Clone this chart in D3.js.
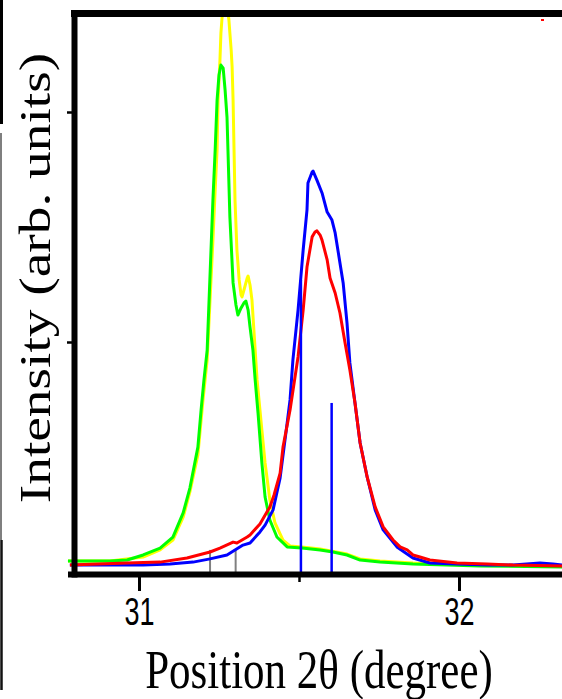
<!DOCTYPE html>
<html>
<head>
<meta charset="utf-8">
<script src="https://cdn.jsdelivr.net/npm/d3@7"></script>
<style>
  body { margin: 0; background: #fff; }
  svg { display: block; }
</style>
</head>
<body>
<script>
// 2theta (degree), intensity (arb. units)
var yellowPattern = [[30.778,48],[30.909,48],[31.013,65],[31.066,96],[31.106,139],[31.138,239],[31.159,348],[31.184,509],
  [31.200,748],[31.213,922],[31.222,1183],[31.231,1443],[31.238,1661],[31.244,1835],[31.247,2052],[31.253,2226],[31.256,2343],
  [31.259,2400],[31.263,2465],[31.275,2465],[31.281,2400],[31.284,2343],[31.288,2270],[31.291,2196],[31.294,2052],[31.297,1835],
  [31.300,1617],[31.306,1400],[31.313,1270],[31.319,1204],[31.322,1196],[31.328,1226],[31.338,1278],[31.341,1287],[31.347,1248],
  [31.353,1183],[31.359,1052],[31.363,965],[31.369,835],[31.378,704],[31.384,617],[31.394,474],[31.409,313],[31.425,213],
  [31.450,139],[31.472,113],[31.509,109],[31.566,100],[31.650,78],[31.691,57],[31.753,48],[31.856,39],[32.066,30],[32.322,26]];

var greenPattern = [[30.778,48],[30.847,48],[30.909,48],[30.963,52],[31.013,74],[31.066,104],[31.106,152],[31.138,257],
  [31.159,365],[31.184,543],[31.194,704],[31.203,835],[31.213,965],[31.219,1183],[31.225,1400],[31.231,1617],[31.238,1835],
  [31.244,2052],[31.250,2161],[31.256,2204],[31.263,2191],[31.269,2096],[31.275,1978],[31.278,1835],[31.284,1544],[31.294,1257],
  [31.303,1161],[31.309,1117],[31.319,1148],[31.328,1170],[31.334,1178],[31.341,1139],[31.347,1065],[31.356,965],[31.363,835],
  [31.372,691],[31.384,474],[31.394,326],[31.409,226],[31.431,152],[31.463,109],[31.509,104],[31.566,96],[31.606,87],
  [31.650,74],[31.691,52],[31.753,43],[31.856,35],[32.066,26],[32.322,22]];

var bluePattern = [[30.784,30],[30.909,30],[31.013,30],[31.097,35],[31.169,43],[31.222,57],[31.275,74],[31.325,117],
  [31.347,126],[31.378,174],[31.394,204],[31.419,270],[31.441,409],[31.463,648],[31.472,748],[31.481,922],[31.497,1139],
  [31.513,1400],[31.525,1574],[31.528,1691],[31.541,1739],[31.544,1743],[31.556,1704],[31.572,1648],[31.588,1565],[31.603,1530],
  [31.613,1474],[31.625,1370],[31.638,1257],[31.650,1083],[31.659,909],[31.675,735],[31.691,561],[31.713,413],[31.738,270],
  [31.763,183],[31.806,109],[31.856,61],[31.909,39],[31.994,35],[32.088,30],[32.169,30],[32.253,39],[32.294,35],[32.322,30]];

var redPattern = [[30.784,30],[30.963,39],[31.066,43],[31.150,61],[31.222,87],[31.253,104],[31.294,130],[31.306,126],
  [31.338,152],[31.347,161],[31.378,209],[31.409,283],[31.422,335],[31.441,430],[31.450,543],[31.472,704],[31.497,935],
  [31.513,1139],[31.525,1326],[31.541,1457],[31.550,1478],[31.556,1483],[31.566,1465],[31.572,1443],[31.588,1357],[31.597,1278],
  [31.613,1213],[31.628,1126],[31.644,996],[31.659,878],[31.675,735],[31.691,561],[31.713,413],[31.738,283],[31.763,196],
  [31.794,139],[31.816,109],[31.838,96],[31.856,74],[31.878,65],[31.909,52],[31.994,39],[32.088,35],[32.169,30],[32.322,26]];

// reference peak positions
var blueSticks = [[31.506,1270],[31.602,735]];
var graySticks = [[31.222,96],[31.302,96]];

var xTicks = [31, 32];
var xMinorTicks = [31.5];
var yTicks = [1000, 2000];

var width = 562, height = 699;

var svg = d3.select("body").append("svg")
    .attr("width", width)
    .attr("height", height);

var x = d3.scaleLinear().domain([31, 32]).range([139, 459]);
var y = d3.scaleLinear().domain([0, 2000]).range([572, 112]);

svg.append("clipPath").attr("id", "plot")
  .append("rect")
    .attr("x", 66).attr("y", 17)
    .attr("width", width).attr("height", 557);

var plot = svg.append("g").attr("clip-path", "url(#plot)");

// sticks first, curves on top
plot.selectAll(".gray-stick")
    .data(graySticks)
    .enter().append("line")
    .attr("x1", function (d) { return x(d[0]); })
    .attr("x2", function (d) { return x(d[0]); })
    .attr("y1", y(0))
    .attr("y2", function (d) { return y(d[1]); })
    .attr("stroke", "#808080")
    .attr("stroke-width", 2);

var line = d3.line()
    .x(function (d) { return x(d[0]); })
    .y(function (d) { return y(d[1]); });

var series = [
  {data: yellowPattern, color: "#ffff00"},
  {data: greenPattern, color: "#00ff00"},
  {data: bluePattern, color: "#0000ff"},
  {data: redPattern, color: "#ff0000"}
];

plot.selectAll(".pattern")
    .data(series)
    .enter().append("path")
    .attr("class", "pattern")
    .attr("d", function (d) { return line(d.data); })
    .attr("fill", "none")
    .attr("stroke", function (d) { return d.color; })
    .attr("stroke-width", 3)
    .attr("stroke-linejoin", "round");

plot.selectAll(".blue-stick")
    .data(blueSticks)
    .enter().append("line")
    .attr("x1", function (d) { return x(d[0]); })
    .attr("x2", function (d) { return x(d[0]); })
    .attr("y1", y(0))
    .attr("y2", function (d) { return y(d[1]); })
    .attr("stroke", "#0000ff")
    .attr("stroke-width", 2.5);

// frame
svg.append("line").attr("x1", 71).attr("x2", width).attr("y1", 13.5).attr("y2", 13.5)
    .attr("stroke", "#000").attr("stroke-width", 7);
svg.append("line").attr("x1", 74.5).attr("x2", 74.5).attr("y1", 10).attr("y2", 577.5)
    .attr("stroke", "#000").attr("stroke-width", 6);
svg.append("line").attr("x1", 68).attr("x2", width).attr("y1", 574.5).attr("y2", 574.5)
    .attr("stroke", "#000").attr("stroke-width", 6);

// x axis
var xAxis = svg.append("g")
    .attr("transform", "translate(0,577)")
    .call(d3.axisBottom(x).tickValues(xTicks).tickSize(14).tickFormat(d3.format("d")));
xAxis.select(".domain").remove();
xAxis.selectAll(".tick line").attr("stroke", "#000").attr("stroke-width", 3);
xAxis.selectAll(".tick text")
    .attr("y", 0).attr("dy", 0)
    .attr("transform", "translate(0,48) scale(1,1.45)")
    .style("font-family", "Arial, 'Liberation Sans', sans-serif")
    .style("font-size", "27px")
    .attr("fill", "#000");

var xMinor = svg.append("g")
    .attr("transform", "translate(0,577)")
    .call(d3.axisBottom(x).tickValues(xMinorTicks).tickSize(5).tickFormat(""));
xMinor.select(".domain").remove();
xMinor.selectAll(".tick line").attr("stroke", "#000").attr("stroke-width", 2.5);

// y axis (ticks only)
var yAxis = svg.append("g")
    .attr("transform", "translate(72,0)")
    .call(d3.axisLeft(y).tickValues(yTicks).tickSize(5).tickFormat(""));
yAxis.select(".domain").remove();
yAxis.selectAll(".tick line").attr("stroke", "#000").attr("stroke-width", 2.5);

// axis titles
svg.append("text")
    .attr("transform", "translate(319,688) scale(1,1.29)")
    .attr("text-anchor", "middle")
    .style("font-family", "'Times New Roman', 'Liberation Serif', serif")
    .style("font-size", "43px")
    .attr("fill", "#000")
    .text("Position 2θ (degree)");

svg.append("text")
    .attr("transform", "translate(50,278) rotate(-90) scale(1.23,1)")
    .attr("text-anchor", "middle")
    .style("font-family", "'Times New Roman', 'Liberation Serif', serif")
    .style("font-size", "45px")
    .attr("fill", "#000")
    .text("Intensity (arb. units)");

// bits of the neighbouring panel at the left edge and a stray legend mark
svg.append("line").attr("x1", 1.5).attr("x2", 1.5).attr("y1", 0).attr("y2", 124)
    .attr("stroke", "#000").attr("stroke-width", 3);
svg.append("line").attr("x1", 1).attr("x2", 1).attr("y1", 133).attr("y2", 540)
    .attr("stroke", "#555").attr("stroke-width", 1.5);
svg.append("line").attr("x1", 1.5).attr("x2", 1.5).attr("y1", 540).attr("y2", 690)
    .attr("stroke", "#111").attr("stroke-width", 2.5);
svg.append("rect").attr("x", 541).attr("y", 19).attr("width", 3).attr("height", 2)
    .attr("fill", "#ff0000");
</script>
</body>
</html>
